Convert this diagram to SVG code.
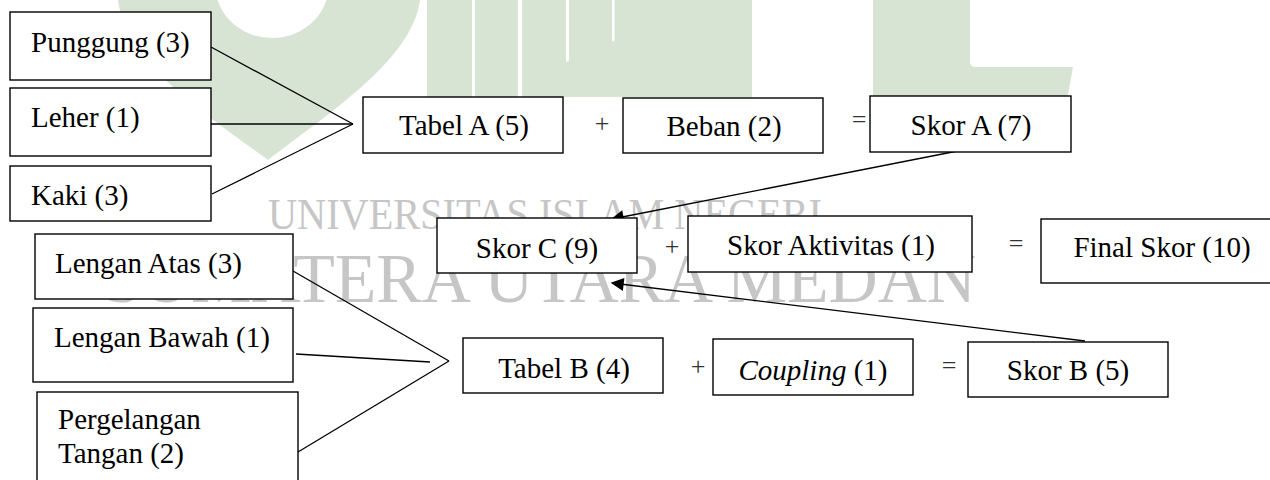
<svg xmlns="http://www.w3.org/2000/svg" width="1270" height="480" viewBox="0 0 1270 480">
<style>
.box{fill:#fff;stroke:#000;stroke-width:1.4}
.t{font-family:"Liberation Serif","Times New Roman",serif;font-size:29px;fill:#000}
.c{text-anchor:middle}
.op{font-family:"Liberation Serif","Times New Roman",serif;font-size:26px;fill:#333;text-anchor:middle}
.ln{stroke:#000;stroke-width:1.3;fill:none}
.wm{fill:#d7e4d3}
.wt{font-family:"Liberation Serif","Times New Roman",serif;fill:#c6c6c6}
</style>
<defs>
<marker id="ah" viewBox="0 0 10 10" refX="9" refY="5" markerWidth="15" markerHeight="13" markerUnits="userSpaceOnUse" orient="auto">
<path d="M0,0 L10,5 L0,10 Z" fill="#000"/>
</marker>
</defs>
<rect width="1270" height="480" fill="#fff"/>
<g id="watermark">
<path class="wm" d="M118,0 L420,0 C412,60 330,112 268,160 C200,110 126,62 118,0 Z"/>
<ellipse cx="272" cy="-16" rx="57" ry="54" fill="#fff"/>
<rect class="wm" x="427" y="0" width="45" height="97"/>
<rect class="wm" x="475" y="0" width="43" height="97"/>
<rect class="wm" x="522" y="0" width="92" height="97"/>
<rect class="wm" x="614" y="0" width="138" height="97"/>
<path d="M566,0 L569,0 L569,60 Q567.5,64 566,60 Z" fill="#fff"/>
<path d="M612,0 L614.5,0 L614.5,40 Q613,44 612,40 Z" fill="#fff"/>
<path class="wm" d="M873,0 L970,0 L970,62 Q970,67 976,67 L1073,67 L1067,100 L873,100 Z"/>
<text class="wt" x="268" y="229" font-size="44" textLength="554" lengthAdjust="spacingAndGlyphs">UNIVERSITAS ISLAM NEGERI</text>
<text class="wt" x="104" y="302" font-size="70" textLength="872" lengthAdjust="spacingAndGlyphs">SUMATERA UTARA MEDAN</text>
</g>
<g id="connectors">
<line class="ln" x1="211" y1="47" x2="353" y2="124"/>
<line class="ln" x1="211" y1="124" x2="353" y2="124"/>
<line class="ln" x1="212" y1="194" x2="353" y2="124"/>
<line class="ln" x1="293" y1="271" x2="449" y2="361"/>
<line class="ln" x1="296" y1="354" x2="430" y2="362"/>
<line class="ln" x1="298" y1="452" x2="449" y2="361"/>
<line class="ln" x1="988" y1="145" x2="612" y2="219" marker-end="url(#ah)"/>
<line class="ln" x1="1085" y1="341" x2="612" y2="283" marker-end="url(#ah)"/>
</g>
<g id="punggung"><rect class="box" x="10" y="12" width="201" height="68"/><text class="t" x="31" y="52">Punggung (3)</text></g>
<g id="leher"><rect class="box" x="10" y="88" width="201" height="68"/><text class="t" x="31" y="127">Leher (1)</text></g>
<g id="kaki"><rect class="box" x="10" y="166" width="201" height="55"/><text class="t" x="31" y="205">Kaki (3)</text></g>
<g id="tabel-a"><rect class="box" x="363" y="97" width="200" height="56"/><text class="t c" x="464" y="135">Tabel A (5)</text></g>
<g id="op1"><text class="op" x="602" y="132">+</text></g>
<g id="beban"><rect class="box" x="623" y="98" width="200" height="55"/><text class="t c" x="724" y="136">Beban (2)</text></g>
<g id="op2"><text class="op" x="859" y="128">=</text></g>
<g id="skor-a"><rect class="box" x="870" y="96" width="201" height="56"/><text class="t c" x="971" y="135">Skor A (7)</text></g>
<g id="skor-c"><rect class="box" x="437" y="218" width="200" height="55"/><text class="t c" x="537" y="258">Skor C (9)</text></g>
<g id="op3"><text class="op" x="672" y="255">+</text></g>
<g id="skor-aktivitas"><rect class="box" x="688" y="216" width="284" height="56"/><text class="t c" x="831" y="255">Skor Aktivitas (1)</text></g>
<g id="op4"><text class="op" x="1016" y="252">=</text></g>
<g id="final-skor"><rect class="box" x="1041" y="219" width="244" height="64"/><text class="t c" x="1162" y="257">Final Skor (10)</text></g>
<g id="lengan-atas"><rect class="box" x="35" y="234" width="258" height="65"/><text class="t" x="55" y="273">Lengan Atas (3)</text></g>
<g id="lengan-bawah"><rect class="box" x="33" y="308" width="260" height="74"/><text class="t" x="54" y="347">Lengan Bawah (1)</text></g>
<g id="pergelangan"><rect class="box" x="37" y="392" width="261" height="110"/><text class="t" x="58" y="429">Pergelangan</text><text class="t" x="58" y="463">Tangan (2)</text></g>
<g id="tabel-b"><rect class="box" x="463" y="338" width="200" height="55"/><text class="t c" x="564" y="378">Tabel B (4)</text></g>
<g id="op5"><text class="op" x="698" y="375">+</text></g>
<g id="coupling"><rect class="box" x="713" y="339" width="200" height="56"/><text class="t c" x="813" y="380"><tspan font-style="italic">Coupling</tspan> (1)</text></g>
<g id="op6"><text class="op" x="949" y="374">=</text></g>
<g id="skor-b"><rect class="box" x="968" y="342" width="200" height="55"/><text class="t c" x="1068" y="380">Skor B (5)</text></g>
</svg>
